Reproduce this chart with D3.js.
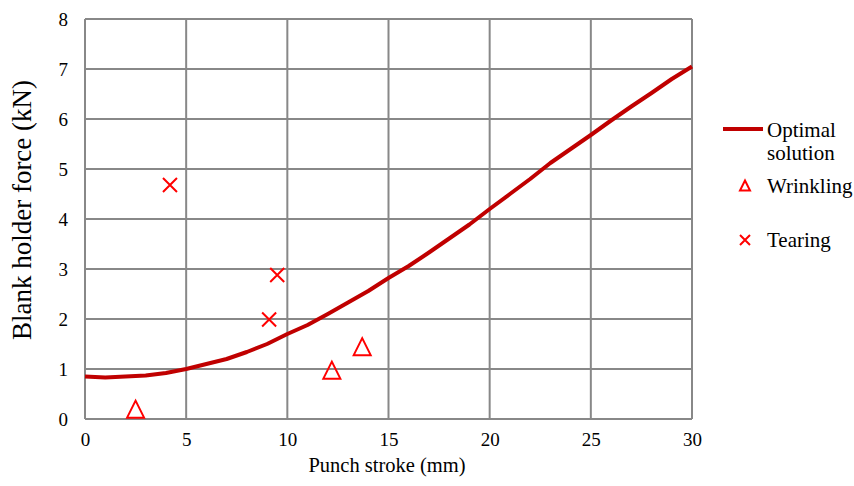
<!DOCTYPE html>
<html>
<head>
<meta charset="utf-8">
<script src="https://cdn.jsdelivr.net/npm/d3@7"></script>
<style>
  body { margin: 0; background: #fff; }
</style>
</head>
<body>
<script>
// optimal solution curve (punch stroke mm, force kN)
let strokeMm = [0, 1, 2, 3, 4, 5, 6, 7, 8, 9, 10, 11, 12, 13, 14, 15, 16, 17, 18, 19, 20, 21, 22, 23, 24, 25, 26, 27, 28, 29, 30];
let forceKn = [0.85, 0.83, 0.85, 0.87, 0.92, 1.0, 1.1, 1.2, 1.34, 1.5, 1.7, 1.88, 2.1, 2.33, 2.56, 2.82, 3.06, 3.33, 3.61, 3.89, 4.2, 4.5, 4.8, 5.12, 5.4, 5.68, 5.97, 6.25, 6.52, 6.8, 7.05];
let wrinkleX = [2.5, 12.2, 13.7];
let wrinkleY = [0.18, 0.96, 1.43];
let tearX = [4.2, 9.1, 9.5];
let tearY = [4.68, 1.99, 2.88];
let xTicks = [0, 5, 10, 15, 20, 25, 30];
let yTicks = [0, 1, 2, 3, 4, 5, 6, 7, 8];

const W = 854, H = 486;
const FONT = '"Liberation Serif", "Times New Roman", serif';
const m = { left: 85, top: 19, right: 162, bottom: 67 };
const svg = d3.select("body").append("svg").attr("width", W).attr("height", H);

const x = d3.scaleLinear().domain([0, 30]).range([m.left, W - m.right]);
const y = d3.scaleLinear().domain([0, 8]).range([H - m.bottom, m.top]);

// grid
const grid = svg.append("g").attr("stroke", "#888").attr("stroke-width", 2);
xTicks.forEach(t => {
    grid.append("line").attr("x1", x(t)).attr("x2", x(t)).attr("y1", y(0)).attr("y2", y(8));
});
yTicks.forEach(t => {
    grid.append("line").attr("x1", x(0)).attr("x2", x(30)).attr("y1", y(t)).attr("y2", y(t));
});

// axes (labels only)
const xAxis = svg.append("g").attr("transform", `translate(0,${y(0)})`)
    .call(d3.axisBottom(x).tickValues(xTicks).tickSize(0).tickPadding(14));
const yAxis = svg.append("g").attr("transform", `translate(${x(0)},0)`)
    .call(d3.axisLeft(y).tickValues(yTicks).tickSize(0).tickPadding(17));
[xAxis, yAxis].forEach(a => {
    a.select(".domain").remove();
    a.selectAll("text").style("font-family", FONT).style("font-size", "19px").attr("fill", "#000");
});

function label(g, tx, ty, size, str) {
    return g.append("text").attr("x", tx).attr("y", ty)
        .style("font-family", FONT).style("font-size", size + "px").attr("fill", "#000").text(str);
}

label(svg, 387, 472, 20.5, "Punch stroke (mm)").attr("text-anchor", "middle");
label(svg, 0, 0, 27, "Blank holder force (kN)").attr("text-anchor", "middle")
    .attr("transform", "translate(31,210) rotate(-90)");

// line
const line = d3.line().x((d, i) => x(strokeMm[i])).y(d => y(d));
svg.append("path").datum(forceKn).attr("d", line).attr("fill", "none")
    .attr("stroke", "#c00000").attr("stroke-width", 4).attr("stroke-linejoin", "round");

function triangle(g, cx, cy, s) {
    g.append("path")
        .attr("d", `M${cx},${cy - s * 0.55} L${cx + s / 2},${cy + s * 0.45} L${cx - s / 2},${cy + s * 0.45} Z`)
        .attr("fill", "none").attr("stroke", "#ff0000").attr("stroke-width", 2);
}
function cross(g, cx, cy, s) {
    g.append("path")
        .attr("d", `M${cx - s / 2},${cy - s / 2} L${cx + s / 2},${cy + s / 2} M${cx + s / 2},${cy - s / 2} L${cx - s / 2},${cy + s / 2}`)
        .attr("stroke", "#ff0000").attr("stroke-width", 2);
}

wrinkleX.forEach((d, i) => triangle(svg, x(d), y(wrinkleY[i]), 17));
tearX.forEach((d, i) => cross(svg, x(d), y(tearY[i]), 14));

// legend
const lg = svg.append("g");
lg.append("line").attr("x1", 723).attr("x2", 763).attr("y1", 129).attr("y2", 129)
    .attr("stroke", "#c00000").attr("stroke-width", 4);
label(lg, 767, 137, 21, "Optimal");
label(lg, 767, 160, 21, "solution");
triangle(lg, 745, 186, 10);
label(lg, 767, 193, 21, "Wrinkling");
cross(lg, 745, 240, 10);
label(lg, 767, 247, 21, "Tearing");
</script>
</body>
</html>
